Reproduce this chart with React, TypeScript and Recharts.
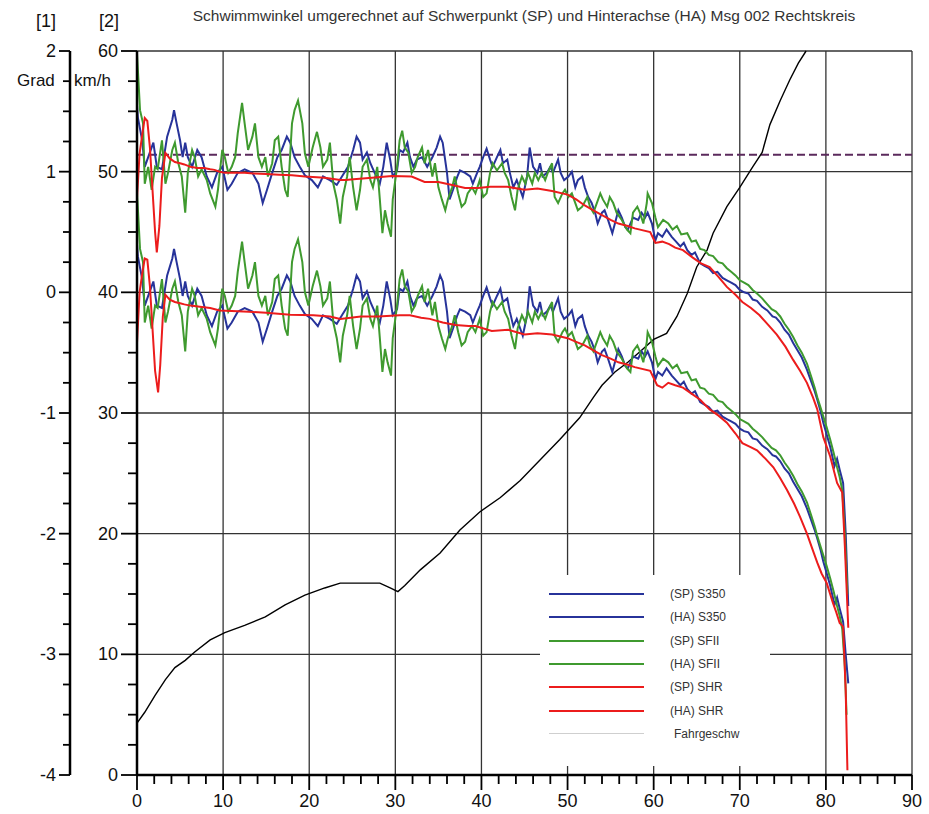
import React from 'react';
import { CartesianGrid, Line, LineChart, ReferenceLine, XAxis, YAxis } from 'recharts';

type Pt = [number, number];

// x axis (0..90), minor ticks every 2
const xTicks = [
  0, 2, 4, 6, 8, 10, 12, 14, 16, 18, 20, 22, 24, 26, 28, 30, 32, 34, 36, 38, 40, 42, 44, 46,
  48, 50, 52, 54, 56, 58, 60, 62, 64, 66, 68, 70, 72, 74, 76, 78, 80, 82, 84, 86, 88, 90,
];
const xDomain: [number, number] = [0, 90];
const xGrid = [10, 20, 30, 40, 50, 60, 70, 80, 90];

// [2] km/h axis
const kmhTicks = [
  0, 2.5, 5, 7.5, 10, 12.5, 15, 17.5, 20, 22.5, 25, 27.5, 30, 32.5, 35, 37.5, 40, 42.5, 45,
  47.5, 50, 52.5, 55, 57.5, 60,
];

// [1] Grad axis
const gradTicks = [
  -4, -3.75, -3.5, -3.25, -3, -2.75, -2.5, -2.25, -2, -1.75, -1.5, -1.25, -1, -0.75, -0.5,
  -0.25, 0, 0.25, 0.5, 0.75, 1, 1.25, 1.5, 1.75, 2,
];
const gradDomain: [number, number] = [-4, 2];
const gradGrid = [-3, -2, -1, 0, 1, 2];

const dashedSpeed = 51.4;

// (SP) S350 - Grad
const spS350: Pt[] = [
  [0, 1.55], [0.1, 1.45], [0.6, 1.26], [0.9, 1.04], [1.3, 1.12], [1.9, 1.24], [2.3, 1.04], [2.9, 1.02],
  [3.5, 1.29], [4.1, 1.43], [4.3, 1.51], [4.6, 1.4], [5.0, 1.26], [5.3, 1.12], [5.6, 1.24], [5.9, 1.12],
  [6.4, 1.04], [7.0, 1.18], [7.5, 1.12], [8.1, 0.96], [8.7, 0.87], [9.3, 0.99], [9.9, 1.04], [10.5, 0.85],
  [11.0, 0.9], [11.7, 0.99], [12.5, 1.02], [13.4, 0.99], [14.1, 0.9], [14.6, 0.74], [15.1, 0.85], [15.7, 0.99],
  [16.3, 1.12], [16.8, 1.18], [17.4, 1.29], [17.8, 1.24], [18.3, 1.12], [18.9, 1.04], [19.5, 0.97], [20.3, 0.93],
  [21.0, 0.87], [21.6, 0.96], [22.4, 0.93], [23.2, 0.89], [23.8, 0.96], [24.5, 1.04], [25.1, 1.18], [25.5, 1.29],
  [25.9, 1.24], [26.2, 1.1], [26.7, 1.16], [27.1, 1.07], [27.6, 0.99], [28.2, 0.9], [28.6, 1.04], [29.0, 1.24],
  [29.4, 1.1], [29.7, 0.96], [30.2, 1.01], [30.5, 1.18], [30.9, 1.16], [31.4, 1.24], [31.7, 1.12], [32.1, 1.04],
  [32.5, 1.1], [33.1, 1.12], [33.7, 1.04], [34.3, 1.12], [34.8, 1.2], [35.2, 1.29], [35.5, 1.24], [36.0, 0.99],
  [36.3, 0.77], [36.7, 0.85], [37.2, 0.96], [37.5, 1.01], [38.1, 0.99], [38.7, 0.96], [39.0, 0.9], [39.5, 0.99],
  [39.8, 1.04], [40.2, 1.12], [40.6, 1.19], [41.0, 1.1], [41.3, 1.04], [41.8, 1.12], [42.2, 1.18], [42.5, 1.07],
  [43.0, 1.1], [43.3, 0.99], [43.7, 0.87], [44.1, 0.93], [44.5, 0.85], [44.8, 0.79], [45.3, 0.96], [45.6, 1.2],
  [46.0, 1.04], [46.5, 0.99], [46.8, 1.07], [47.1, 0.96], [47.6, 0.99], [48.0, 1.04], [48.3, 0.99], [48.9, 1.1],
  [49.2, 0.99], [49.6, 0.93], [50.1, 0.96], [50.5, 1.0], [50.9, 0.87], [51.2, 0.93], [51.7, 0.96], [52.0, 0.87],
  [52.4, 0.79], [52.8, 0.74], [53.2, 0.66], [53.5, 0.57], [54.0, 0.66], [54.3, 0.68], [54.7, 0.6], [55.2, 0.49],
  [55.5, 0.57], [55.9, 0.68], [56.3, 0.62], [56.7, 0.54], [57.0, 0.52], [57.6, 0.62], [58.2, 0.6], [58.6, 0.66],
  [59.0, 0.62], [59.3, 0.66], [59.8, 0.57], [60.2, 0.43], [60.5, 0.49], [61.0, 0.46], [61.5, 0.52], [62.1, 0.46],
  [62.6, 0.42], [63.1, 0.38], [63.5, 0.41], [63.9, 0.35], [64.4, 0.31], [64.8, 0.33], [65.4, 0.24], [65.9, 0.22],
  [66.4, 0.2], [66.9, 0.16], [67.4, 0.17], [68.0, 0.12], [68.5, 0.1], [69.0, 0.08], [69.5, 0.06], [70.0, 0.02],
  [70.5, 0.0], [71.0, -0.01], [71.5, -0.06], [72.0, -0.07], [72.6, -0.12], [73.2, -0.15], [73.8, -0.2], [74.2, -0.21],
  [74.7, -0.25], [75.2, -0.31], [75.7, -0.35], [76.2, -0.42], [76.7, -0.48], [77.2, -0.54], [77.8, -0.64], [78.3, -0.74],
  [78.7, -0.82], [79.0, -0.89], [79.4, -0.99], [79.7, -1.08], [80.1, -1.18], [80.5, -1.28], [81.0, -1.44], [81.3, -1.38],
  [81.6, -1.47], [82.0, -1.58], [82.3, -2.0], [82.6, -2.6],
];

// (HA) S350 - Grad
const haS350: Pt[] = [
  [0, 0.4], [0.1, 0.3], [0.6, 0.11], [0.9, -0.11], [1.3, -0.03], [1.9, 0.09], [2.3, -0.11], [2.9, -0.13],
  [3.5, 0.14], [4.1, 0.28], [4.3, 0.36], [4.6, 0.25], [5.0, 0.11], [5.3, -0.03], [5.6, 0.09], [5.9, -0.03],
  [6.4, -0.11], [7.0, 0.03], [7.5, -0.03], [8.1, -0.19], [8.7, -0.28], [9.3, -0.16], [9.9, -0.11], [10.5, -0.3],
  [11.0, -0.25], [11.7, -0.16], [12.5, -0.13], [13.4, -0.16], [14.1, -0.25], [14.6, -0.41], [15.1, -0.3], [15.7, -0.16],
  [16.3, -0.03], [16.8, 0.03], [17.4, 0.14], [17.8, 0.09], [18.3, -0.03], [18.9, -0.11], [19.5, -0.18], [20.3, -0.22],
  [21.0, -0.28], [21.6, -0.19], [22.4, -0.22], [23.2, -0.26], [23.8, -0.19], [24.5, -0.11], [25.1, 0.03], [25.5, 0.14],
  [25.9, 0.09], [26.2, -0.05], [26.7, 0.01], [27.1, -0.08], [27.6, -0.16], [28.2, -0.25], [28.6, -0.11], [29.0, 0.09],
  [29.4, -0.05], [29.7, -0.19], [30.2, -0.14], [30.5, 0.03], [30.9, 0.01], [31.4, 0.09], [31.7, -0.03], [32.1, -0.11],
  [32.5, -0.05], [33.1, -0.03], [33.7, -0.11], [34.3, -0.03], [34.8, 0.05], [35.2, 0.14], [35.5, 0.09], [36.0, -0.16],
  [36.3, -0.38], [36.7, -0.3], [37.2, -0.19], [37.5, -0.14], [38.1, -0.16], [38.7, -0.19], [39.0, -0.25], [39.5, -0.16],
  [39.8, -0.11], [40.2, -0.03], [40.6, 0.04], [41.0, -0.05], [41.3, -0.11], [41.8, -0.03], [42.2, 0.03], [42.5, -0.08],
  [43.0, -0.05], [43.3, -0.16], [43.7, -0.28], [44.1, -0.22], [44.5, -0.3], [44.8, -0.36], [45.3, -0.19], [45.6, 0.05],
  [46.0, -0.11], [46.5, -0.16], [46.8, -0.08], [47.1, -0.19], [47.6, -0.16], [48.0, -0.11], [48.3, -0.16], [48.9, -0.05],
  [49.2, -0.16], [49.6, -0.22], [50.1, -0.19], [50.5, -0.15], [50.9, -0.28], [51.2, -0.22], [51.7, -0.19], [52.0, -0.28],
  [52.4, -0.36], [52.8, -0.41], [53.2, -0.49], [53.5, -0.58], [54.0, -0.49], [54.3, -0.47], [54.7, -0.55], [55.2, -0.66],
  [55.5, -0.58], [55.9, -0.47], [56.3, -0.53], [56.7, -0.61], [57.0, -0.63], [57.6, -0.53], [58.2, -0.55], [58.6, -0.49],
  [59.0, -0.53], [59.3, -0.49], [59.8, -0.58], [60.2, -0.72], [60.5, -0.66], [61.0, -0.69], [61.5, -0.63], [62.1, -0.69],
  [62.6, -0.73], [63.1, -0.77], [63.5, -0.74], [63.9, -0.8], [64.4, -0.84], [64.8, -0.82], [65.4, -0.91], [65.9, -0.93],
  [66.4, -0.95], [66.9, -0.99], [67.4, -0.98], [68.0, -1.03], [68.5, -1.05], [69.0, -1.07], [69.5, -1.09], [70.0, -1.13],
  [70.5, -1.15], [71.0, -1.16], [71.5, -1.21], [72.0, -1.22], [72.6, -1.27], [73.2, -1.3], [73.8, -1.35], [74.2, -1.36],
  [74.7, -1.4], [75.2, -1.46], [75.7, -1.5], [76.2, -1.57], [76.7, -1.63], [77.2, -1.69], [77.8, -1.79], [78.3, -1.89],
  [78.7, -1.97], [79.0, -2.04], [79.4, -2.14], [79.7, -2.23], [80.1, -2.33], [80.5, -2.43], [81.0, -2.59], [81.3, -2.53],
  [81.6, -2.62], [82.0, -2.73], [82.3, -3.0], [82.6, -3.24],
];

// (SP) SFII - Grad
const spSFII: Pt[] = [
  [0, 1.98], [0.35, 1.51], [0.7, 1.4], [0.9, 0.9], [1.3, 1.04], [1.7, 0.85], [2.1, 1.04], [2.4, 1.02],
  [2.9, 1.26], [3.3, 0.9], [3.6, 0.99], [4.1, 1.18], [4.4, 1.24], [4.8, 1.07], [5.2, 0.96], [5.6, 0.66],
  [5.9, 0.99], [6.4, 1.18], [6.7, 1.12], [7.1, 0.96], [7.5, 1.02], [8.1, 0.93], [8.5, 0.82], [9.1, 0.71],
  [9.4, 0.85], [9.9, 1.18], [10.2, 1.12], [10.6, 0.99], [11.0, 1.04], [11.4, 1.12], [11.7, 1.32], [12.2, 1.57],
  [12.5, 1.4], [12.9, 1.18], [13.4, 1.29], [13.7, 1.4], [14.1, 1.12], [14.5, 1.04], [14.9, 1.12], [15.2, 0.96],
  [15.7, 1.07], [16.0, 1.26], [16.4, 1.29], [16.8, 1.04], [17.2, 0.85], [17.5, 0.79], [18.0, 1.4], [18.3, 1.51],
  [18.7, 1.59], [19.2, 1.4], [19.5, 1.15], [19.9, 1.04], [20.4, 1.2], [20.9, 1.33], [21.3, 1.2], [21.6, 1.04],
  [22.1, 1.1], [22.4, 1.24], [22.8, 0.9], [23.2, 0.77], [23.6, 0.57], [23.9, 0.79], [24.4, 0.96], [24.7, 1.12],
  [25.1, 0.87], [25.5, 0.68], [25.9, 0.85], [26.2, 1.04], [26.7, 1.1], [27.1, 0.93], [27.4, 0.87], [27.9, 1.04],
  [28.2, 0.77], [28.5, 0.49], [28.8, 0.68], [29.1, 0.57], [29.5, 0.46], [29.7, 0.77], [30.2, 1.04], [30.5, 1.26],
  [30.8, 1.34], [31.1, 1.2], [31.5, 1.16], [31.9, 0.99], [32.3, 1.04], [32.6, 1.12], [33.1, 1.2], [33.4, 1.07],
  [33.8, 1.18], [34.3, 0.96], [34.6, 1.07], [35.0, 0.87], [35.4, 0.77], [35.8, 0.68], [36.1, 0.77], [36.6, 0.87],
  [36.9, 0.96], [37.3, 0.82], [37.7, 0.71], [38.1, 0.74], [38.4, 0.82], [38.9, 0.87], [39.3, 0.82], [39.8, 0.93],
  [40.2, 0.79], [40.6, 0.82], [41.0, 0.99], [41.3, 1.07], [41.8, 1.01], [42.4, 1.07], [42.7, 0.99], [43.1, 0.93],
  [43.5, 0.79], [43.9, 0.68], [44.2, 0.85], [44.7, 0.96], [45.1, 0.9], [45.4, 0.99], [45.9, 0.9], [46.2, 0.99],
  [46.6, 0.93], [47.0, 0.99], [47.4, 0.93], [47.7, 0.99], [48.2, 1.07], [48.5, 0.79], [48.9, 0.74], [49.4, 0.82],
  [49.7, 0.85], [50.1, 0.79], [50.5, 0.82], [50.9, 0.74], [51.2, 0.68], [51.7, 0.71], [52.3, 0.79], [52.6, 0.71],
  [53.0, 0.66], [53.4, 0.74], [53.8, 0.82], [54.1, 0.77], [54.6, 0.71], [54.9, 0.79], [55.3, 0.74], [55.7, 0.66],
  [56.3, 0.6], [56.9, 0.52], [57.3, 0.49], [57.6, 0.66], [58.1, 0.71], [58.4, 0.66], [58.8, 0.57], [59.2, 0.74],
  [59.3, 0.82], [59.8, 0.74], [60.2, 0.62], [60.5, 0.54], [61.1, 0.6], [61.7, 0.57], [62.2, 0.52], [62.7, 0.55],
  [63.2, 0.48], [63.9, 0.49], [64.4, 0.42], [64.9, 0.43], [65.4, 0.36], [65.9, 0.35], [66.4, 0.31], [66.9, 0.3],
  [67.5, 0.25], [68.0, 0.24], [68.5, 0.2], [69.0, 0.17], [69.5, 0.14], [70.0, 0.1], [70.5, 0.08], [71.0, 0.06],
  [71.5, 0.02], [72.0, -0.01], [72.6, -0.05], [73.2, -0.1], [73.7, -0.14], [74.2, -0.16], [74.7, -0.2], [75.2, -0.26],
  [75.7, -0.31], [76.2, -0.37], [76.7, -0.44], [77.2, -0.5], [77.8, -0.59], [78.3, -0.7], [78.7, -0.79], [79.0, -0.87],
  [79.4, -0.96], [79.7, -1.03], [80.1, -1.12], [80.5, -1.22], [80.9, -1.33], [81.3, -1.45], [81.6, -1.53], [81.9, -1.64],
  [82.2, -2.0], [82.5, -2.5],
];

// (HA) SFII - Grad
const haSFII: Pt[] = [
  [0, 0.83], [0.35, 0.36], [0.7, 0.25], [0.9, -0.25], [1.3, -0.11], [1.7, -0.3], [2.1, -0.11], [2.4, -0.13],
  [2.9, 0.11], [3.3, -0.25], [3.6, -0.16], [4.1, 0.03], [4.4, 0.09], [4.8, -0.08], [5.2, -0.19], [5.6, -0.49],
  [5.9, -0.16], [6.4, 0.03], [6.7, -0.03], [7.1, -0.19], [7.5, -0.13], [8.1, -0.22], [8.5, -0.33], [9.1, -0.44],
  [9.4, -0.3], [9.9, 0.03], [10.2, -0.03], [10.6, -0.16], [11.0, -0.11], [11.4, -0.03], [11.7, 0.17], [12.2, 0.42],
  [12.5, 0.25], [12.9, 0.03], [13.4, 0.14], [13.7, 0.25], [14.1, -0.03], [14.5, -0.11], [14.9, -0.03], [15.2, -0.19],
  [15.7, -0.08], [16.0, 0.11], [16.4, 0.14], [16.8, -0.11], [17.2, -0.3], [17.5, -0.36], [18.0, 0.25], [18.3, 0.36],
  [18.7, 0.44], [19.2, 0.25], [19.5, 0.0], [19.9, -0.11], [20.4, 0.05], [20.9, 0.18], [21.3, 0.05], [21.6, -0.11],
  [22.1, -0.05], [22.4, 0.09], [22.8, -0.25], [23.2, -0.38], [23.6, -0.58], [23.9, -0.36], [24.4, -0.19], [24.7, -0.03],
  [25.1, -0.28], [25.5, -0.47], [25.9, -0.3], [26.2, -0.11], [26.7, -0.05], [27.1, -0.22], [27.4, -0.28], [27.9, -0.11],
  [28.2, -0.38], [28.5, -0.66], [28.8, -0.47], [29.1, -0.58], [29.5, -0.69], [29.7, -0.38], [30.2, -0.11], [30.5, 0.11],
  [30.8, 0.19], [31.1, 0.05], [31.5, 0.01], [31.9, -0.16], [32.3, -0.11], [32.6, -0.03], [33.1, 0.05], [33.4, -0.08],
  [33.8, 0.03], [34.3, -0.19], [34.6, -0.08], [35.0, -0.28], [35.4, -0.38], [35.8, -0.47], [36.1, -0.38], [36.6, -0.28],
  [36.9, -0.19], [37.3, -0.33], [37.7, -0.44], [38.1, -0.41], [38.4, -0.33], [38.9, -0.28], [39.3, -0.33], [39.8, -0.22],
  [40.2, -0.36], [40.6, -0.33], [41.0, -0.16], [41.3, -0.08], [41.8, -0.14], [42.4, -0.08], [42.7, -0.16], [43.1, -0.22],
  [43.5, -0.36], [43.9, -0.47], [44.2, -0.3], [44.7, -0.19], [45.1, -0.25], [45.4, -0.16], [45.9, -0.25], [46.2, -0.16],
  [46.6, -0.22], [47.0, -0.16], [47.4, -0.22], [47.7, -0.16], [48.2, -0.08], [48.5, -0.36], [48.9, -0.41], [49.4, -0.33],
  [49.7, -0.3], [50.1, -0.36], [50.5, -0.33], [50.9, -0.41], [51.2, -0.47], [51.7, -0.44], [52.3, -0.36], [52.6, -0.44],
  [53.0, -0.49], [53.4, -0.41], [53.8, -0.33], [54.1, -0.38], [54.6, -0.44], [54.9, -0.36], [55.3, -0.41], [55.7, -0.49],
  [56.3, -0.55], [56.9, -0.63], [57.3, -0.66], [57.6, -0.49], [58.1, -0.44], [58.4, -0.49], [58.8, -0.58], [59.2, -0.41],
  [59.3, -0.33], [59.8, -0.41], [60.2, -0.53], [60.5, -0.61], [61.1, -0.55], [61.7, -0.58], [62.2, -0.63], [62.7, -0.6],
  [63.2, -0.67], [63.9, -0.66], [64.4, -0.73], [64.9, -0.72], [65.4, -0.79], [65.9, -0.8], [66.4, -0.84], [66.9, -0.85],
  [67.5, -0.9], [68.0, -0.91], [68.5, -0.95], [69.0, -0.98], [69.5, -1.01], [70.0, -1.05], [70.5, -1.07], [71.0, -1.09],
  [71.5, -1.13], [72.0, -1.16], [72.6, -1.2], [73.2, -1.25], [73.7, -1.29], [74.2, -1.31], [74.7, -1.35], [75.2, -1.41],
  [75.7, -1.46], [76.2, -1.52], [76.7, -1.59], [77.2, -1.65], [77.8, -1.74], [78.3, -1.85], [78.7, -1.94], [79.0, -2.02],
  [79.4, -2.11], [79.7, -2.18], [80.1, -2.27], [80.5, -2.37], [80.9, -2.48], [81.3, -2.6], [81.6, -2.68], [81.9, -2.79],
  [82.2, -3.1], [82.4, -3.5],
];

// (SP) SHR - Grad
const spSHR: Pt[] = [
  [0, 0.78], [0.3, 1.15], [0.6, 1.3], [0.9, 1.445], [1.2, 1.42], [1.5, 1.2], [1.8, 0.85], [2.1, 0.5],
  [2.3, 0.33], [2.6, 0.55], [2.9, 0.95], [3.3, 1.155], [3.8, 1.11], [4.4, 1.08], [5.0, 1.07], [5.5, 1.06],
  [6.2, 1.04], [7.0, 1.03], [7.8, 1.03], [8.5, 1.02], [9.0, 1.015], [9.6, 1.0], [10.2, 0.99], [11.4, 0.99],
  [12.5, 0.99], [13.5, 0.985], [15.0, 0.98], [16.5, 0.975], [18.0, 0.97], [19.5, 0.96], [21.8, 0.95], [23.6, 0.93],
  [24.2, 0.93], [25.5, 0.94], [27.3, 0.95], [29.6, 0.965], [31.9, 0.96], [33.4, 0.915], [35.0, 0.915], [36.6, 0.89],
  [38.1, 0.865], [39.6, 0.865], [41.0, 0.875], [43.0, 0.875], [45.0, 0.85], [46.5, 0.86], [48.2, 0.84], [50.0, 0.81],
  [51.0, 0.77], [52.0, 0.72], [53.0, 0.68], [54.0, 0.64], [55.0, 0.6], [55.9, 0.57], [57.0, 0.55], [57.8, 0.53],
  [59.6, 0.5], [60.2, 0.41], [61.0, 0.42], [61.8, 0.4], [62.5, 0.37], [63.4, 0.35], [64.5, 0.29], [65.5, 0.24],
  [66.5, 0.21], [67.5, 0.13], [68.5, 0.045], [69.5, -0.02], [70.3, -0.08], [71.3, -0.13], [72.3, -0.19], [73.3, -0.27],
  [74.3, -0.35], [75.3, -0.45], [76.2, -0.56], [77.0, -0.65], [77.8, -0.75], [78.5, -0.87], [79.0, -0.97], [79.7, -1.2],
  [80.5, -1.36], [81.3, -1.58], [81.9, -1.66], [82.2, -2.1], [82.6, -2.78],
];

// (HA) SHR - Grad
const haSHR: Pt[] = [
  [0, -0.42], [0.3, 0.0], [0.6, 0.15], [0.9, 0.28], [1.2, 0.27], [1.5, 0.05], [1.8, -0.3], [2.1, -0.65],
  [2.45, -0.83], [2.7, -0.6], [3.0, -0.2], [3.3, -0.02], [3.8, -0.06], [4.4, -0.08], [5.0, -0.09], [5.5, -0.1],
  [6.2, -0.11], [7.3, -0.12], [8.5, -0.13], [9.6, -0.15], [11.0, -0.155], [13.0, -0.16], [15.0, -0.17], [17.8, -0.185],
  [20.5, -0.19], [22.4, -0.2], [23.6, -0.22], [26.0, -0.2], [28.0, -0.2], [30.5, -0.19], [31.7, -0.19], [33.0, -0.21],
  [34.0, -0.22], [35.5, -0.25], [37.0, -0.27], [38.5, -0.28], [39.3, -0.28], [41.2, -0.32], [43.1, -0.31], [45.0, -0.35],
  [46.5, -0.34], [48.2, -0.35], [50.0, -0.38], [51.0, -0.41], [52.0, -0.44], [53.0, -0.48], [54.0, -0.52], [55.0, -0.55],
  [55.9, -0.58], [57.0, -0.6], [57.8, -0.62], [59.6, -0.65], [60.4, -0.77], [61.0, -0.79], [61.7, -0.75], [62.5, -0.77],
  [63.4, -0.79], [64.4, -0.84], [65.4, -0.89], [66.5, -0.97], [67.5, -1.02], [68.5, -1.08], [69.5, -1.17], [70.3, -1.25],
  [71.2, -1.28], [72.0, -1.31], [73.0, -1.38], [73.9, -1.45], [74.7, -1.54], [75.5, -1.64], [76.3, -1.75], [77.0, -1.86],
  [77.8, -2.0], [78.5, -2.14], [79.0, -2.24], [79.5, -2.33], [80.1, -2.41], [80.8, -2.57], [81.2, -2.65], [81.6, -2.74],
  [82.0, -2.77], [82.3, -3.3], [82.5, -3.96],
];

// Fahrgeschwindigkeit - km/h
const speed: Pt[] = [
  [0, 4.3], [0.9, 5.2], [2.1, 6.6], [3.3, 7.9], [4.4, 8.9], [5.6, 9.5], [6.7, 10.2], [8.5, 11.2],
  [10.2, 11.8], [12.5, 12.4], [14.9, 13.1], [17.2, 14.1], [19.5, 14.9], [21.8, 15.5], [23.6, 15.9], [25.9, 15.9],
  [28.2, 15.9], [29.4, 15.5], [30.3, 15.2], [31.1, 15.7], [32.9, 17.0], [35.2, 18.4], [37.5, 20.3], [39.8, 21.8],
  [42.2, 23.0], [44.5, 24.4], [46.8, 26.1], [49.1, 27.8], [51.4, 29.6], [53.0, 31.3], [54.0, 32.3], [55.5, 33.4],
  [57.0, 34.2], [58.6, 35.2], [60.0, 36.1], [61.5, 36.6], [62.7, 38.0], [63.9, 39.9], [65.0, 42.1], [66.2, 43.5],
  [66.9, 44.9], [68.5, 47.1], [70.0, 48.7], [71.5, 50.4], [72.6, 51.6], [73.5, 53.9], [74.7, 55.9], [75.8, 57.6],
  [76.8, 59.0], [77.7, 60.0],
];

const BLUE = '#27339a';
const GREEN = '#3f9a2f';
const RED = '#ec1c1c';
const FONT = '"Liberation Sans", Arial, sans-serif';

// axis ids: "a" = km/h (next to the plot), "b" = Grad (outer)
const KMH = 'a';
const GRAD = 'b';

const angleSeries = [
  { name: '(SP) S350', color: BLUE, points: spS350 },
  { name: '(HA) S350', color: BLUE, points: haS350 },
  { name: '(SP) SFII', color: GREEN, points: spSFII },
  { name: '(HA) SFII', color: GREEN, points: haSFII },
  { name: '(SP) SHR', color: RED, points: spSHR },
  { name: '(HA) SHR', color: RED, points: haSHR },
];

const legendItems = [
  ...angleSeries.map((s) => ({ name: s.name, color: s.color, width: 2 })),
  { name: 'Fahrgeschw', color: '#cfcfcf', width: 1.2 },
];

const rows = (pts: Pt[]) => pts.map(([x, y]) => ({ x, y }));

// grid positions: use the axis scale when it is handed over, else map the domain onto the plot box
function gridX({ xAxis, offset }: any) {
  if (xAxis && typeof xAxis.scale === 'function') return xGrid.map((v) => xAxis.scale(v));
  return xGrid.map((v) => offset.left + ((v - xDomain[0]) / (xDomain[1] - xDomain[0])) * offset.width);
}

function gridY({ yAxis, offset }: any) {
  if (yAxis && typeof yAxis.scale === 'function') return gradGrid.map((v) => yAxis.scale(v));
  return gradGrid.map(
    (v) => offset.top + ((gradDomain[1] - v) / (gradDomain[1] - gradDomain[0])) * offset.height,
  );
}

function XTick({ x, y, payload }: any) {
  const major = payload.value % 10 === 0;
  return (
    <g>
      <line x1={x} y1={y} x2={x} y2={y + (major ? 15 : 9)} stroke="#000" strokeWidth={1.8} />
      {major ? (
        <text x={x} y={y + 32} textAnchor="middle" fontSize={18} fill="#111" fontFamily={FONT}>
          {payload.value}
        </text>
      ) : null}
    </g>
  );
}

function KmhTick({ x, y, payload }: any) {
  const major = payload.value % 10 === 0;
  return (
    <g>
      <line x1={x - (major ? 16 : 9)} y1={y} x2={x} y2={y} stroke="#000" strokeWidth={1.8} />
      {major ? (
        <text x={x - 19} y={y + 6} textAnchor="end" fontSize={18} fill="#111" fontFamily={FONT}>
          {payload.value}
        </text>
      ) : null}
    </g>
  );
}

function GradTick({ x, y, payload }: any) {
  const major = Number.isInteger(payload.value);
  return (
    <g>
      <line x1={x - (major ? 11 : 7)} y1={y} x2={x} y2={y} stroke="#000" strokeWidth={1.8} />
      {major ? (
        <text x={x - 14} y={y + 6} textAnchor="end" fontSize={18} fill="#111" fontFamily={FONT}>
          {payload.value}
        </text>
      ) : null}
    </g>
  );
}

const label = (left: number, top: number, size: number): React.CSSProperties => ({
  position: 'absolute',
  left,
  top,
  fontSize: size,
  fontFamily: FONT,
  color: '#111',
  whiteSpace: 'nowrap',
  lineHeight: 1,
});

export default function App() {
  return (
    <div style={{ position: 'absolute', left: 0, top: 0, width: 929, height: 814, background: '#fff' }}>
      <LineChart width={929} height={814} margin={{ top: 51, right: 17, bottom: 0, left: 0 }}>
        <CartesianGrid
          xAxisId="x"
          yAxisId={GRAD}
          stroke="#333"
          strokeWidth={1.3}
          verticalCoordinatesGenerator={gridX}
          horizontalCoordinatesGenerator={gridY}
        />
        <XAxis
          xAxisId="x"
          dataKey="x"
          type="number"
          domain={xDomain}
          ticks={xTicks}
          interval={0}
          height={39}
          tickSize={0}
          tickMargin={0}
          tickLine={false}
          axisLine={{ stroke: '#000', strokeWidth: 2.5 }}
          tick={(p: any) => <XTick {...p} />}
        />
        <YAxis
          yAxisId={GRAD}
          orientation="left"
          type="number"
          domain={gradDomain}
          ticks={gradTicks}
          interval={0}
          width={70}
          tickSize={0}
          tickMargin={0}
          tickLine={false}
          axisLine={{ stroke: '#000', strokeWidth: 2.5 }}
          tick={(p: any) => <GradTick {...p} />}
        />
        <YAxis
          yAxisId={KMH}
          orientation="left"
          type="number"
          domain={[0, 60]}
          ticks={kmhTicks}
          interval={0}
          width={67}
          tickSize={0}
          tickMargin={0}
          tickLine={false}
          axisLine={{ stroke: '#000', strokeWidth: 2.5 }}
          tick={(p: any) => <KmhTick {...p} />}
        />
        <ReferenceLine
          xAxisId="x"
          yAxisId={KMH}
          y={dashedSpeed}
          stroke="#5b2a5c"
          strokeWidth={1.8}
          strokeDasharray="8 4"
        />
        <Line
          xAxisId="x"
          yAxisId={KMH}
          data={rows(speed)}
          dataKey="y"
          type="linear"
          stroke="#000"
          strokeWidth={1.4}
          dot={false}
          isAnimationActive={false}
        />
        {angleSeries.map((s) => (
          <Line
            key={s.name}
            xAxisId="x"
            yAxisId={GRAD}
            data={rows(s.points)}
            dataKey="y"
            name={s.name}
            type="linear"
            stroke={s.color}
            strokeWidth={2}
            dot={false}
            isAnimationActive={false}
          />
        ))}
      </LineChart>

      <div style={{ ...label(524, 8, 15.5), transform: 'translateX(-50%)', color: '#333' }}>
        Schwimmwinkel umgerechnet auf Schwerpunkt (SP) und Hinterachse (HA) Msg 002 Rechtskreis
      </div>
      <div style={label(36, 12, 18)}>[1]</div>
      <div style={label(99, 12, 18)}>[2]</div>
      <div style={label(17, 72, 17)}>Grad</div>
      <div style={label(74, 72, 17)}>km/h</div>

      <div
        style={{
          position: 'absolute',
          left: 540,
          top: 575,
          width: 230,
          height: 191,
          background: '#fff',
        }}
      >
        {legendItems.map((item, i) => (
          <div key={item.name} style={{ position: 'absolute', left: 9, top: 12 + i * 23.3, height: 14, width: 220 }}>
            <div
              style={{
                position: 'absolute',
                left: 0,
                top: 7 - item.width / 2,
                width: 95,
                height: item.width,
                background: item.color,
              }}
            />
            <div
              style={{
                ...label(item.name === 'Fahrgeschw' ? 125 : 121, 1, 12),
                color: '#333',
              }}
            >
              {item.name}
            </div>
          </div>
        ))}
      </div>
    </div>
  );
}
